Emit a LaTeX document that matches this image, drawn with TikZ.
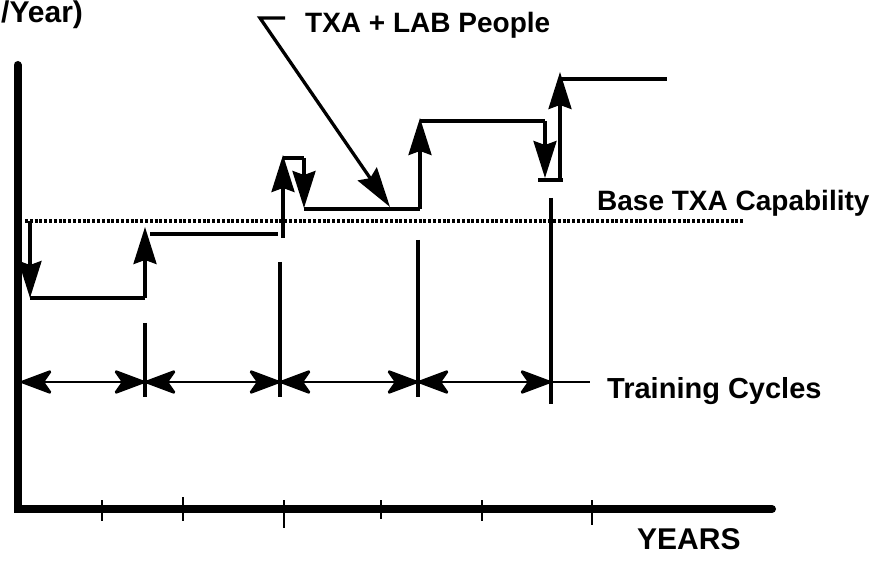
\documentclass[tikz,border=0pt]{standalone}
\usepackage{fontspec}
\setmainfont{Liberation Sans}
\usetikzlibrary{arrows.meta}

\begin{document}
\begin{tikzpicture}[x=1pt,y=-1pt,
  axis/.style={line width=8pt,line join=miter,line cap=round},
  tick/.style={line width=2.8pt},
  level/.style={line width=3.3pt},
  riser/.style={line width=3.3pt,-{Stealth[length=37pt,width=23pt,inset=4pt]}},
  marker/.style={line width=3.2pt},
  cycle/.style={line width=2.8pt,{Stealth[length=35pt,width=26pt,inset=9pt,round]}-{Stealth[length=35pt,width=26pt,inset=9pt,round]}},
  pointer/.style={line width=3.3pt,line join=miter,-{Stealth[length=40pt,width=23pt,inset=5pt]}},
  base/.style={line width=3.4pt,dash pattern=on 3pt off 1.8pt},
  lbl/.style={inner sep=0pt,font=\fontsize{28}{30}\selectfont\bfseries},
]
\useasboundingbox (0,0) rectangle (871,564);

% axes
\coordinate (ytop) at (17.5,65);
\coordinate (origin) at (17.5,509);
\coordinate (xend) at (772,509);
\draw[axis] (ytop) -- (origin) -- (xend);
\foreach \x/\a/\b in {102/500/521,183/497/521,284/500/528,381/500/519,482/500/521,592/500/525}
  \draw[tick] (\x,\a) -- (\x,\b);

% base capability level
\coordinate (b0) at (25,221);
\coordinate (b1) at (743,221);
\draw[base] (b0) -- (b1);

% capability steps
\coordinate (s0) at (30,221);   \coordinate (s1) at (30,298);
\coordinate (s2) at (145,298);  \coordinate (s3) at (145,227);
\coordinate (s4) at (150,234);  \coordinate (s5) at (278,234);
\coordinate (s6) at (283,238);  \coordinate (s7) at (283,155);
\coordinate (s8) at (283,158);  \coordinate (s9) at (304,158);
\coordinate (s10) at (304,208); \coordinate (s11) at (304,209);
\coordinate (s12) at (420,209); \coordinate (s13) at (420,118);
\coordinate (s14) at (420,121); \coordinate (s15) at (545,121);
\coordinate (s16) at (545,178); \coordinate (s17) at (538,180);
\coordinate (s18) at (563,180); \coordinate (s19) at (560,180);
\coordinate (s20) at (560,72);  \coordinate (s21) at (560,79);
\coordinate (s22) at (667,79);

\draw[riser] (s0) -- (s1);
\draw[level] (s1) -- (s2);
\draw[riser] (s2) -- (s3);
\draw[level] (s4) -- (s5);
\draw[riser] (s6) -- (s7);
\draw[level] (s8) -- (s9);
\draw[riser] (s9) -- (s10);
\draw[level] (s11) -- (s12);
\draw[riser] (s12) -- (s13);
\draw[level] (s14) -- (s15);
\draw[riser] (s15) -- (s16);
\draw[level] (s17) -- (s18);
\draw[riser] (s19) -- (s20);
\draw[level] (s21) -- (s22);

% training cycle markers
\coordinate (m1t) at (145,323); \coordinate (m1b) at (145,397);
\coordinate (m2t) at (280,262); \coordinate (m2b) at (280,397);
\coordinate (m3t) at (418,240); \coordinate (m3b) at (418,397);
\coordinate (m4t) at (551,198); \coordinate (m4b) at (551,404);
\draw[marker] (m1t) -- (m1b);
\draw[marker] (m2t) -- (m2b);
\draw[marker] (m3t) -- (m3b);
\draw[marker] (m4t) -- (m4b);

\coordinate (c0) at (21,382);
\coordinate (c1) at (145,382);
\coordinate (c2) at (280,382);
\coordinate (c3) at (418,382);
\coordinate (c4) at (551,382);
\coordinate (c5) at (590,382);
\draw[cycle] (c0) -- (c1);
\draw[cycle] (c1) -- (c2);
\draw[cycle] (c2) -- (c3);
\draw[cycle] (c3) -- (c4);
\draw[line width=2.8pt] (c4) -- (c5);

% labels
\node[lbl,anchor=base west] (ppl) at (305,33) {TXA + LAB People};
\node[lbl,anchor=base west] (cap) at (597,211) {Base TXA Capability};
\node[lbl,anchor=base west,font=\fontsize{29}{31}\selectfont\bfseries] (trn) at (607,398) {Training Cycles};
\node[lbl,anchor=base west,font=\fontsize{30}{32}\selectfont\bfseries] (yrs) at (637,549) {YEARS};
\node[lbl,anchor=base west,font=\fontsize{30}{32}\selectfont\bfseries] (unit) at (1,23) {/Year)};

% pointer from the people label
\coordinate (p0) at (285,18);
\coordinate (p1) at (260,18);
\coordinate (p2) at (390,207);
\draw[pointer] (p0) -- (p1) -- (p2);
\end{tikzpicture}
\end{document}
